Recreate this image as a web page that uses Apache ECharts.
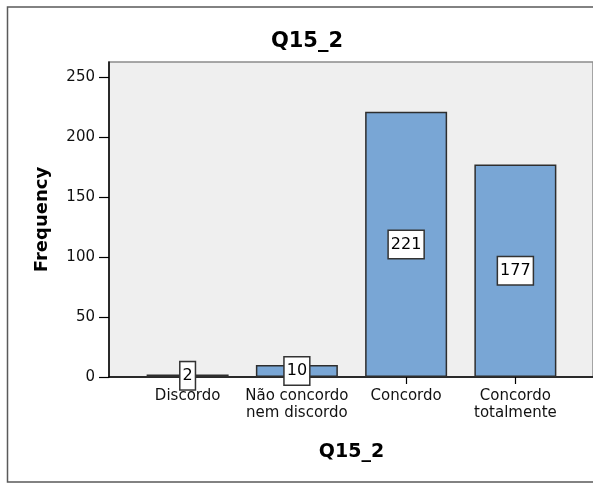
<!DOCTYPE html>
<html>
<head>
<meta charset="utf-8">
<script src="https://cdn.jsdelivr.net/npm/echarts@6/dist/echarts.min.js"></script>
<style>
  html, body { margin: 0; padding: 0; background: #fff; }
  #chart { width: 593px; height: 484px; }
</style>
</head>
<body>
<div id="chart"></div>
<script>
// Q15_2 response counts
const categories = ['Discordo', 'Não concordo\nnem discordo', 'Concordo', 'Concordo\ntotalmente'];
const frequencies = [2, 10, 221, 177];
const yTickValues = [0, 50, 100, 150, 200, 250];
const chartTitle = 'Q15_2';
const xTitle = 'Q15_2';
const yTitle = 'Frequency';

const FONT = 'DejaVu Sans';
const Y_MAX = 262.5;

const chart = echarts.init(document.getElementById('chart'), null, { renderer: 'canvas' });

chart.setOption({
  animation: false,
  backgroundColor: '#ffffff',
  graphic: [
    {
      type: 'rect',
      shape: { x: 7.5, y: 7, width: 640, height: 475 },
      style: { fill: 'none', stroke: '#5a5a5a', lineWidth: 1.5 },
      z: 0
    },
    {
      type: 'text',
      x: 307, y: 42,
      style: {
        text: chartTitle,
        font: 'bold 21px "' + FONT + '"',
        fill: '#000',
        textAlign: 'center',
        textVerticalAlign: 'middle'
      }
    }
  ],
  grid: [
    // frame with grey background, holds the y axis
    { left: 109, top: 62, width: 484, height: 315, show: true,
      backgroundColor: '#efefef', borderColor: '#8c8c8c', borderWidth: 1.5 },
    // bar area, inset from the frame
    { left: 133, top: 62, width: 437, height: 315 }
  ],
  xAxis: [
    {
      gridIndex: 0, type: 'category', data: [''],
      axisLine: { show: true, lineStyle: { color: '#000', width: 1.5 } },
      axisTick: { show: false }, axisLabel: { show: false }, z: 5
    },
    {
      gridIndex: 1, type: 'category', data: categories,
      axisLine: { show: false },
      axisTick: { show: true, alignWithLabel: true, length: 7, lineStyle: { color: '#000', width: 1.2 } },
      axisLabel: {
        margin: 11, color: '#111', fontFamily: FONT, fontSize: 15, lineHeight: 17, interval: 0
      },
      name: xTitle, nameLocation: 'middle', nameGap: 66,
      nameTextStyle: { fontFamily: FONT, fontWeight: 'bold', fontSize: 19, color: '#000' }
    }
  ],
  yAxis: [
    {
      gridIndex: 0, type: 'value', min: 0, max: Y_MAX, interval: 50,
      axisLine: { show: true, lineStyle: { color: '#000', width: 1.5 } },
      axisTick: { show: true, length: 10, customValues: yTickValues, lineStyle: { color: '#000', width: 1.2 } },
      axisLabel: { margin: 14, color: '#111', fontFamily: FONT, fontSize: 15, customValues: yTickValues },
      splitLine: { show: false },
      name: yTitle, nameLocation: 'middle', nameGap: 58,
      nameTextStyle: { fontFamily: FONT, fontWeight: 'bold', fontSize: 18, color: '#000' },
      z: 5
    },
    {
      gridIndex: 1, type: 'value', min: 0, max: Y_MAX, show: false, splitLine: { show: false }
    }
  ],
  series: [
    {
      type: 'bar',
      xAxisIndex: 1, yAxisIndex: 1,
      data: frequencies,
      barWidth: 82,
      itemStyle: { color: '#79a6d5', borderColor: '#2e2e2e', borderWidth: 1.5 },
      label: {
        show: true,
        position: 'inside',
        color: '#000',
        fontFamily: FONT,
        fontSize: 16,
        lineHeight: 18,
        backgroundColor: '#ffffff',
        borderColor: '#333',
        borderWidth: 1.5,
        padding: [5, 2, 4, 2]
      },
      z: 6
    }
  ]
});
</script>
</body>
</html>
